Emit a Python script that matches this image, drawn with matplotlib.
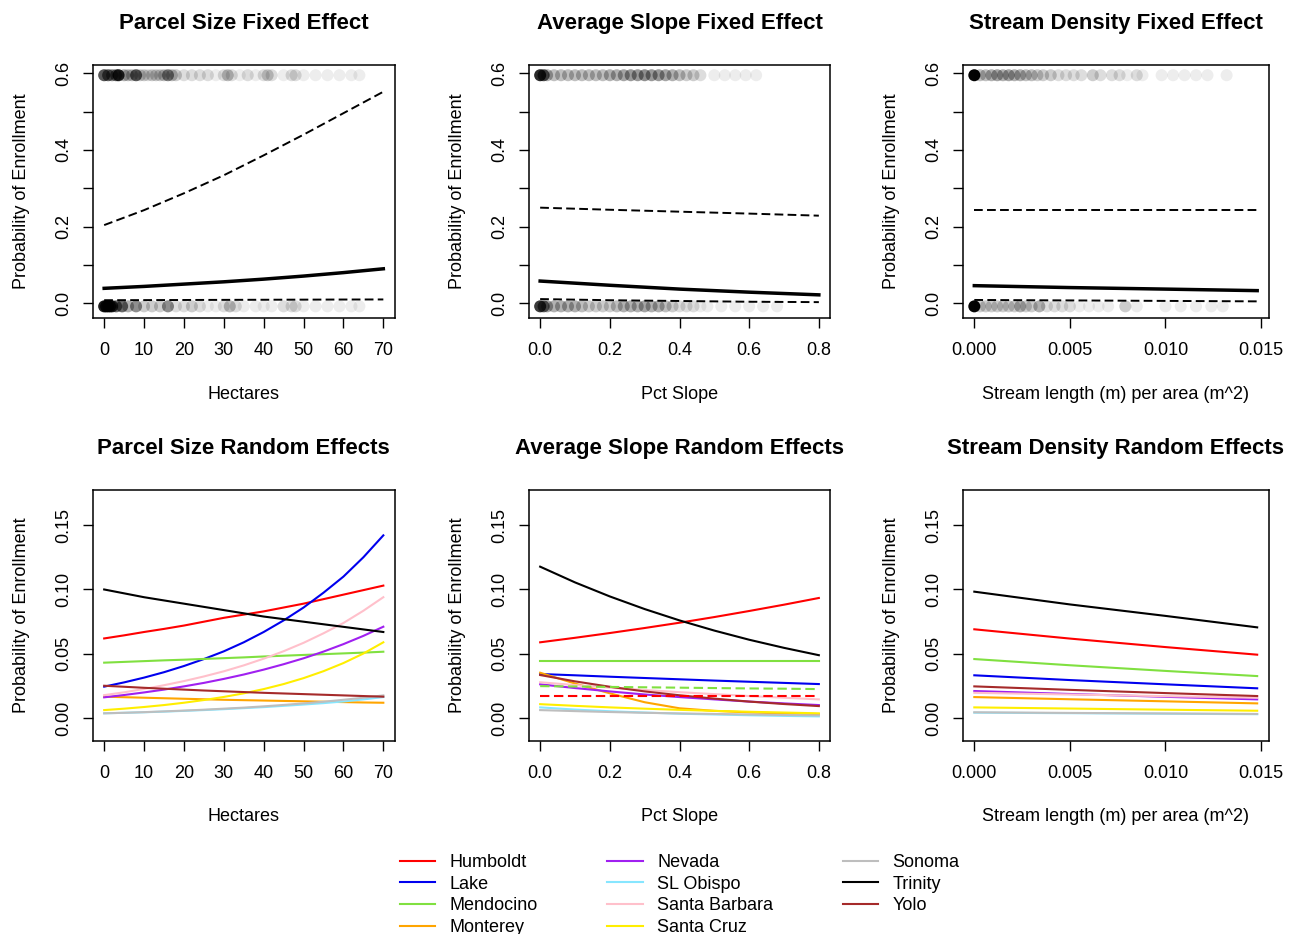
import numpy as np
import matplotlib.pyplot as plt

plt.rcParams['font.family'] = ['Liberation Sans', 'DejaVu Sans']

W, H = 1294, 934

# ---------------- data ----------------
# fixed effect curves: mean, upper and lower bound
ha_x = [0, 10, 20, 30, 40, 50, 60, 70]
ha_mean = [0.039, 0.044, 0.050, 0.056, 0.063, 0.071, 0.080, 0.090]
ha_upper = [0.204, 0.243, 0.287, 0.334, 0.386, 0.440, 0.496, 0.552]
ha_lower = [0.008, 0.0083, 0.0086, 0.0089, 0.0092, 0.0095, 0.0098, 0.010]

sl_x = [0.0, 0.2, 0.4, 0.6, 0.8]
sl_mean = [0.058, 0.047, 0.037, 0.029, 0.022]
sl_upper = [0.2495, 0.244, 0.239, 0.234, 0.2286]
sl_lower = [0.011, 0.008, 0.006, 0.004, 0.003]

sd_x = [0.0, 0.005, 0.010, 0.0148]
sd_mean = [0.046, 0.041, 0.037, 0.033]
sd_upper = [0.2435, 0.2435, 0.2435, 0.2435]
sd_lower = [0.0087, 0.0075, 0.0062, 0.005]

# observed parcels (x position, number of parcels) - enrolled at top, not enrolled at bottom
ha_top_x = [0, 1, 2, 3, 3.6, 5, 6, 7, 8, 9, 10, 11, 12, 13, 14, 15, 16, 17, 18, 20, 22,
            24, 26, 28, 30, 31, 32, 34, 36, 38, 40, 41, 42, 45, 47, 48, 50, 53, 56, 59, 62, 64]
ha_top_n = [15, 12, 8, 10, 25, 5, 4, 4, 14, 3, 3, 2, 3, 3, 3, 4, 9, 4, 3, 2, 2,
            2, 2, 1, 2, 4, 2, 1, 2, 1, 2, 3, 2, 1, 2, 2, 1, 1, 1, 1, 1, 1]
ha_bot_x = [0, 0.5, 1, 1.5, 2, 3, 4.5, 6, 8, 10, 12, 14, 16, 18, 20, 22, 24, 26, 28, 30,
            31.5, 33, 35, 38, 40, 42, 45, 47, 48, 50, 53, 56, 59, 62, 64]
ha_bot_n = [30, 30, 25, 25, 20, 12, 12, 5, 8, 3, 3, 3, 8, 2, 2, 3, 2, 1, 1, 2,
            4, 2, 1, 1, 1, 1, 2, 2, 2, 1, 1, 1, 1, 1, 1]

sl_top_x = [0, 0.01, 0.02, 0.04, 0.06, 0.08, 0.10, 0.12, 0.14, 0.16, 0.18, 0.20, 0.22, 0.24,
            0.26, 0.28, 0.30, 0.32, 0.34, 0.36, 0.38, 0.40, 0.42, 0.44, 0.46, 0.50, 0.53,
            0.56, 0.59, 0.62]
sl_top_n = [25, 15, 5, 4, 4, 4, 4, 4, 4, 4, 4, 5, 5, 6, 7, 7, 8, 7, 7, 6, 5, 4, 3, 3, 2,
            1, 1, 1, 1, 1]
sl_bot_x = [0, 0.01, 0.02, 0.04, 0.06, 0.08, 0.10, 0.12, 0.14, 0.16, 0.18, 0.20, 0.22, 0.24,
            0.26, 0.28, 0.30, 0.32, 0.34, 0.36, 0.38, 0.40, 0.42, 0.44, 0.46, 0.48, 0.52,
            0.56, 0.60, 0.64, 0.68]
sl_bot_n = [20, 12, 6, 5, 5, 5, 5, 4, 3, 3, 3, 3, 4, 5, 5, 5, 6, 5, 5, 4, 3, 2, 2, 2, 1,
            1, 1, 1, 1, 1, 1]

sd_top_x = [0, 0.0003, 0.0006, 0.0009, 0.0012, 0.0015, 0.0018, 0.0021, 0.0024, 0.0027,
            0.003, 0.0033, 0.0036, 0.0040, 0.0044, 0.0048, 0.0052, 0.0056, 0.0062, 0.0066,
            0.0072, 0.0076, 0.0080, 0.0085, 0.0088, 0.0098, 0.0104, 0.0110, 0.0116,
            0.0122, 0.0132]
sd_top_n = [60, 4, 4, 5, 6, 5, 6, 5, 5, 4, 4, 3, 3, 3, 2, 2, 2, 2, 3, 2, 2, 2, 1, 2, 1,
            1, 1, 1, 1, 1, 1]
sd_bot_x = [0, 0.0003, 0.0006, 0.0009, 0.0012, 0.0015, 0.0018, 0.0021, 0.0024, 0.0027,
            0.003, 0.0034, 0.0038, 0.0042, 0.0046, 0.005, 0.0055, 0.006, 0.0065, 0.007,
            0.0079, 0.0085, 0.0100, 0.0108, 0.0116, 0.0124, 0.0130]
sd_bot_n = [60, 3, 3, 3, 3, 3, 3, 3, 5, 3, 3, 5, 2, 2, 2, 2, 1, 1, 1, 1, 3, 1, 1, 1, 1,
            1, 1]

# random effects by county
counties = ["Humboldt", "Lake", "Mendocino", "Monterey", "Nevada", "SL Obispo",
            "Santa Barbara", "Santa Cruz", "Sonoma", "Trinity", "Yolo"]
county_colors = ["#FF0000", "#0000EE", "#80E040", "#FFA500", "#A020F0", "#87E6FF",
                 "#FFC0CB", "#FFEE00", "#BEBEBE", "#000000", "#A52A2A"]

re_ha_x = [0, 5, 10, 15, 20, 25, 30, 35, 40, 45, 50, 55, 60, 65, 70]
re_ha = {
    "Humboldt": [0.062, 0.0644, 0.067, 0.0694, 0.072, 0.075, 0.078, 0.0805, 0.083, 0.086,
                 0.089, 0.0925, 0.096, 0.0995, 0.103],
    "Lake": [0.0246, 0.0279, 0.0316, 0.0358, 0.0406, 0.046, 0.052, 0.059, 0.067, 0.076,
             0.086, 0.0975, 0.110, 0.125, 0.142],
    "Mendocino": [0.0432, 0.0438, 0.0444, 0.045, 0.0455, 0.0461, 0.0467, 0.0473, 0.048,
                  0.0486, 0.0492, 0.0498, 0.0504, 0.051, 0.0517],
    "Monterey": [0.0168, 0.0164, 0.016, 0.0156, 0.0152, 0.0148, 0.0144, 0.0141, 0.0138,
                 0.0135, 0.0132, 0.0129, 0.0126, 0.0123, 0.0121],
    "Nevada": [0.0163, 0.0181, 0.0201, 0.0223, 0.0248, 0.0275, 0.0306, 0.034, 0.0378,
               0.042, 0.0466, 0.0518, 0.0576, 0.064, 0.0711],
    "SL Obispo": [0.0039, 0.0043, 0.0047, 0.0052, 0.0058, 0.0064, 0.0071, 0.0079, 0.0087,
                  0.0097, 0.0107, 0.0118, 0.0131, 0.0147, 0.0165],
    "Santa Barbara": [0.018, 0.0202, 0.0228, 0.0257, 0.0289, 0.0325, 0.0365, 0.0411,
                      0.0463, 0.0521, 0.0586, 0.066, 0.074, 0.0835, 0.094],
    "Santa Cruz": [0.0064, 0.0075, 0.0088, 0.0103, 0.0121, 0.0142, 0.0166, 0.0194,
                   0.0227, 0.0266, 0.0312, 0.0366, 0.0429, 0.0503, 0.059],
    "Sonoma": [0.0039, 0.0043, 0.0048, 0.0054, 0.006, 0.0067, 0.0075, 0.0083, 0.0093,
               0.0104, 0.0116, 0.0129, 0.0144, 0.016, 0.0178],
    "Trinity": [0.100, 0.097, 0.094, 0.0915, 0.089, 0.0865, 0.084, 0.0815, 0.079, 0.077,
                0.075, 0.073, 0.071, 0.069, 0.067],
    "Yolo": [0.0253, 0.0245, 0.0237, 0.023, 0.0223, 0.0216, 0.0210, 0.0204, 0.0198,
             0.0193, 0.0188, 0.0183, 0.0178, 0.0173, 0.0168],
}

re_sl_x = [0.0, 0.1, 0.2, 0.3, 0.4, 0.5, 0.6, 0.7, 0.8]
re_sl = {
    "Humboldt": [0.059, 0.0625, 0.0662, 0.0701, 0.0742, 0.0786, 0.0833, 0.0882, 0.0934],
    "Lake": [0.0344, 0.0334, 0.0323, 0.0313, 0.0303, 0.0293, 0.0284, 0.0275, 0.0266],
    "Mendocino": [0.0445, 0.0445, 0.0445, 0.0445, 0.0445, 0.0445, 0.0445, 0.0445, 0.0445],
    "Monterey": [0.0354, 0.027, 0.0194, 0.0125, 0.0078, 0.0058, 0.0046, 0.0038, 0.0033],
    "Nevada": [0.0264, 0.0235, 0.0209, 0.0185, 0.0165, 0.0147, 0.013, 0.0116, 0.0103],
    "SL Obispo": [0.0085, 0.0068, 0.0055, 0.0045, 0.0036, 0.003, 0.0024, 0.0019, 0.0015],
    "Santa Barbara": [0.028, 0.0258, 0.0238, 0.022, 0.0203, 0.0188, 0.0173, 0.016, 0.0147],
    "Santa Cruz": [0.011, 0.0097, 0.0085, 0.0075, 0.0066, 0.0058, 0.0051, 0.0045, 0.0039],
    "Sonoma": [0.0064, 0.0056, 0.0049, 0.0043, 0.0038, 0.0034, 0.003, 0.0026, 0.0023],
    "Trinity": [0.1177, 0.1055, 0.0946, 0.0848, 0.076, 0.0681, 0.061, 0.0547, 0.049],
    "Yolo": [0.0336, 0.0287, 0.0245, 0.0209, 0.0179, 0.0153, 0.013, 0.0111, 0.0095],
}
re_sl_dash_green = [0.025, 0.0247, 0.0244, 0.0241, 0.0238, 0.0235, 0.0232, 0.023, 0.0227]
re_sl_dash_red = [0.0176, 0.0176, 0.0176, 0.0176, 0.0176, 0.0176, 0.0176, 0.0176, 0.0176]

re_sd_x = [0.0, 0.005, 0.010, 0.0148]
re_sd = {
    "Humboldt": [0.0691, 0.0619, 0.0553, 0.0494],
    "Lake": [0.0334, 0.0297, 0.0264, 0.0233],
    "Mendocino": [0.046, 0.0412, 0.0368, 0.0328],
    "Monterey": [0.0165, 0.0148, 0.0132, 0.0116],
    "Nevada": [0.0212, 0.0189, 0.0167, 0.0147],
    "SL Obispo": [0.0044, 0.004, 0.0036, 0.0032],
    "Santa Barbara": [0.0198, 0.0185, 0.0172, 0.016],
    "Santa Cruz": [0.0085, 0.0076, 0.0067, 0.0059],
    "Sonoma": [0.0047, 0.0042, 0.0038, 0.0034],
    "Trinity": [0.0983, 0.0884, 0.0795, 0.0706],
    "Yolo": [0.0248, 0.0221, 0.0196, 0.0173],
}

# ---------------- figure ----------------
fig = plt.figure(figsize=(W / 100, H / 100), dpi=100)


def px_axes(left, top, right, bottom):
    return fig.add_axes([left / W, 1 - bottom / H, (right - left) / W, (bottom - top) / H])


def style(ax, title, xlabel, xticks, xlabels, yticks, ylabels, yminor=None):
    ax.set_title(title, fontsize=16, fontweight="bold", pad=26)
    ax.set_xlabel(xlabel, fontsize=13, labelpad=19)
    ax.set_ylabel("Probability of Enrollment", fontsize=13, labelpad=18)
    ax.set_xticks(xticks)
    ax.set_xticklabels(xlabels)
    ax.set_yticks(yticks)
    ax.set_yticklabels(ylabels, rotation=90, va="center")
    if yminor is not None:
        ax.set_yticks(yminor, minor=True)
    ax.tick_params(which="both", direction="out", length=7, width=1.0, labelsize=13)
    ax.tick_params(axis="x", pad=10.5)
    ax.tick_params(axis="y", pad=8)
    for s in ax.spines.values():
        s.set_linewidth(1.1)


def rug(ax, xs, ns, y):
    cols = [(0, 0, 0, 1 - 0.93 ** n) for n in ns]
    ax.scatter(xs, [y] * len(xs), s=75, c=cols, edgecolors="none", zorder=1)


dash = (0, (4.5, 2.2))
top_cols = [(93, 394.5), (529, 830), (963, 1268.5)]

# top row - fixed effects
fixed = [
    ("Parcel Size Fixed Effect", "Hectares", ha_x, ha_mean, ha_upper, ha_lower,
     ha_top_x, ha_top_n, ha_bot_x, ha_bot_n, (-2.8, 72.8),
     [0, 10, 20, 30, 40, 50, 60, 70], ["0", "10", "20", "30", "40", "50", "60", "70"]),
    ("Average Slope Fixed Effect", "Pct Slope", sl_x, sl_mean, sl_upper, sl_lower,
     sl_top_x, sl_top_n, sl_bot_x, sl_bot_n, (-0.032, 0.832),
     [0, 0.2, 0.4, 0.6, 0.8], ["0.0", "0.2", "0.4", "0.6", "0.8"]),
    ("Stream Density Fixed Effect", "Stream length (m) per area (m^2)", sd_x, sd_mean,
     sd_upper, sd_lower, sd_top_x, sd_top_n, sd_bot_x, sd_bot_n, (-0.000592, 0.015392),
     [0, 0.005, 0.010, 0.015], ["0.000", "0.005", "0.010", "0.015"]),
]

for (l, r), f in zip(top_cols, fixed):
    title, xl, x, m, up, lo, tx, tn, bx, bn, xlim, xt, xtl = f
    ax = px_axes(l, 65, r, 318)
    rug(ax, tx, tn, 0.595)
    rug(ax, bx, bn, -0.008)
    ax.plot(x, m, color="black", lw=2.5, zorder=3)
    ax.plot(x, up, color="black", lw=1.4, linestyle=dash, zorder=3)
    ax.plot(x, lo, color="black", lw=1.4, linestyle=dash, zorder=3)
    ax.set_xlim(*xlim)
    ax.set_ylim(-0.0384, 0.6217)
    style(ax, title, xl, xt, xtl, [0, 0.2, 0.4, 0.6], ["0.0", "0.2", "0.4", "0.6"],
          yminor=[0.1, 0.3, 0.5])

# bottom row - random effects
random = [
    ("Parcel Size Random Effects", "Hectares", re_ha_x, re_ha, (-2.8, 72.8),
     [0, 10, 20, 30, 40, 50, 60, 70], ["0", "10", "20", "30", "40", "50", "60", "70"]),
    ("Average Slope Random Effects", "Pct Slope", re_sl_x, re_sl, (-0.032, 0.832),
     [0, 0.2, 0.4, 0.6, 0.8], ["0.0", "0.2", "0.4", "0.6", "0.8"]),
    ("Stream Density Random Effects", "Stream length (m) per area (m^2)", re_sd_x, re_sd,
     (-0.000592, 0.015392), [0, 0.005, 0.010, 0.015], ["0.000", "0.005", "0.010", "0.015"]),
]

axes_bottom = []
for (l, r), f in zip(top_cols, random):
    title, xl, x, vals, xlim, xt, xtl = f
    ax = px_axes(l, 490, r, 740.5)
    for name, col in zip(counties, county_colors):
        ax.plot(x, vals[name], color=col, lw=1.5, label=name)
    if vals is re_sl:
        ax.plot(x, re_sl_dash_green, color="#80E040", lw=1.5, linestyle=dash)
        ax.plot(x, re_sl_dash_red, color="#FF0000", lw=1.5, linestyle=dash)
    ax.set_xlim(*xlim)
    ax.set_ylim(-0.0172, 0.1772)
    style(ax, title, xl, xt, xtl, [0, 0.05, 0.10, 0.15], ["0.00", "0.05", "0.10", "0.15"])
    axes_bottom.append(ax)

handles, labels = axes_bottom[0].get_legend_handles_labels()
fig.legend(handles, labels, ncol=3, loc="upper left",
           bbox_to_anchor=(400 / W, 1 - 854 / H), frameon=False, fontsize=13,
           handlelength=1.95, handletextpad=0.8, columnspacing=3.85,
           labelspacing=0.26, borderpad=0, borderaxespad=0)

fig.savefig("out.png", dpi=100)
